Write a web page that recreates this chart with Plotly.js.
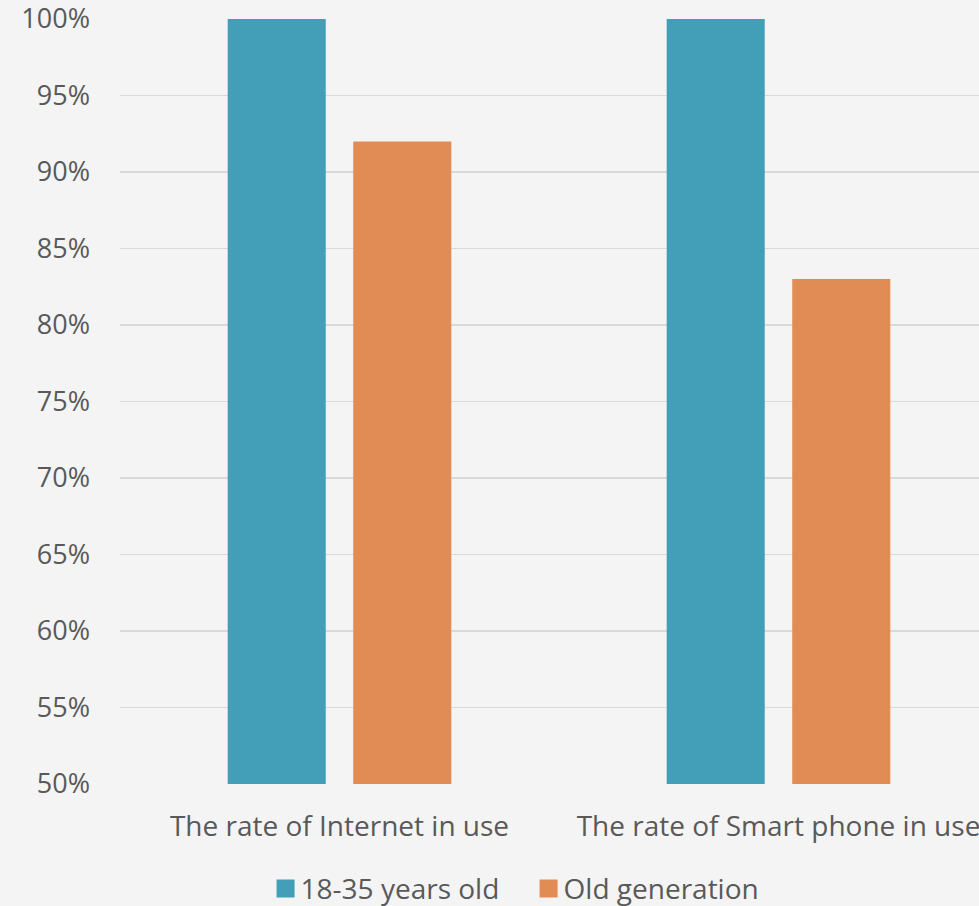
<!DOCTYPE html>
<html>
<head>
<meta charset="utf-8">
<script src="https://cdn.plot.ly/plotly-3.0.1.min.js"></script>
<style>
html,body{margin:0;padding:0;background:#f4f4f4;overflow:hidden;}
#chart{width:1000px;height:906px;}
</style>
</head>
<body>
<div id="chart"></div>
<script>
const categories = ["The rate of Internet in use", "The rate of Smart phone in use"];
const seriesNames = ["18-35 years old", "Old generation"];
const youngValues = [1.00, 1.00];
const oldValues = [0.92, 0.83];
const seriesColors = ["#439fb8", "#e18b55"];
const yTickVals = [0.50, 0.55, 0.60, 0.65, 0.70, 0.75, 0.80, 0.85, 0.90, 0.95, 1.00];

const textColor = "#595959";
const fontFam = "'Open Sans', sans-serif";

const traces = [
  {type: "bar", x: categories, y: youngValues, name: seriesNames[0], marker: {color: seriesColors[0]}, hoverinfo: "skip"},
  {type: "bar", x: categories, y: oldValues, name: seriesNames[1], marker: {color: seriesColors[1]}, hoverinfo: "skip"}
];

const layout = {
  width: 1000, height: 906,
  paper_bgcolor: "#f4f4f4", plot_bgcolor: "#f4f4f4",
  margin: {l: 120, r: 2, t: 19, b: 122, autoexpand: false},
  barmode: "group", bargap: 0.428, bargroupgap: 0.219,
  font: {family: fontFam, color: textColor, size: 28},
  xaxis: {
    type: "category", showgrid: false, zeroline: false, showline: false, automargin: false,
    ticks: "", ticklabelstandoff: 23, ticklabeloverflow: "allow", tickfont: {size: 28, color: textColor}
  },
  yaxis: {
    range: [0.5, 1.0], tickmode: "array", tickvals: yTickVals, tickformat: ".0%", automargin: false,
    showgrid: true, gridcolor: "#d9d9d9", gridwidth: 1.5, zeroline: false, showline: false,
    ticks: "", ticklabelstandoff: 29, ticklabeloverflow: "allow", tickfont: {size: 27, color: textColor}
  },
  showlegend: true,
  legend: {
    orientation: "h", x: 0.1601, xanchor: "left", yref: "container", y: 0.019, yanchor: "middle",
    bgcolor: "rgba(0,0,0,0)", font: {size: 28, color: textColor},
    entrywidth: 218, itemclick: false, itemdoubleclick: false
  }
};

Plotly.newPlot("chart", traces, layout, {staticPlot: true, displayModeBar: false}).then(function(gd){
  gd.querySelectorAll(".legendpoints path").forEach(function(p){
    p.setAttribute("d", "M14,9H-4V-9H14Z");
  });
});
</script>
</body>
</html>
